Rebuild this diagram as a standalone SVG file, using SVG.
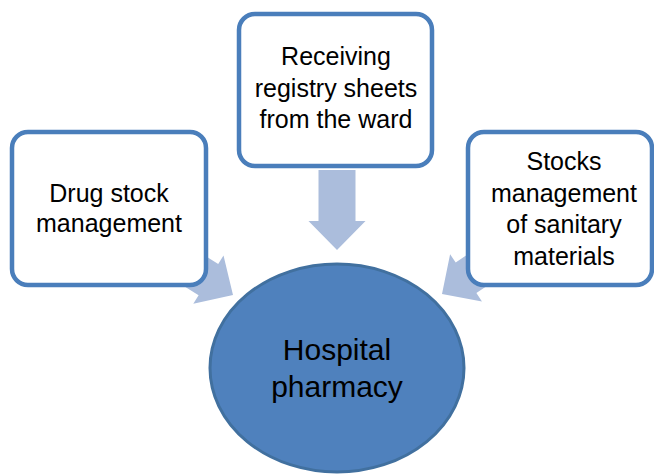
<svg xmlns="http://www.w3.org/2000/svg" width="654" height="474" viewBox="0 0 654 474">
<style>
.box{fill:#ffffff;stroke:#4A7EBB;stroke-width:4.5}
.arrow{fill:#ABBDDC}
.t{font-family:"Liberation Sans",Arial,sans-serif;font-size:25px;fill:#000;text-anchor:middle}
.tc{font-family:"Liberation Sans",Arial,sans-serif;font-size:30px;fill:#000;text-anchor:middle}
</style>
<defs>
<polygon id="arr" points="-80,-18.5 -29,-18.5 -29,-28.5 0,0 -29,28.5 -29,18.5 -80,18.5"/>
</defs>
<g id="connectors">
<use href="#arr" class="arrow" transform="translate(233,295) rotate(32)"/>
<use href="#arr" class="arrow" transform="translate(337,250) rotate(90)"/>
<use href="#arr" class="arrow" transform="translate(442,294) rotate(146)"/>
</g>
<g id="node-drug">
<rect class="box" x="12" y="132" width="194" height="153" rx="16"/>
<text class="t" x="109" y="202">Drug stock</text>
<text class="t" x="109" y="232">management</text>
</g>
<g id="node-receiving">
<rect class="box" x="239" y="14" width="193" height="152" rx="16"/>
<text class="t" x="336" y="65">Receiving</text>
<text class="t" x="336" y="97">registry sheets</text>
<text class="t" x="336" y="128">from the ward</text>
</g>
<g id="node-stocks">
<rect class="box" x="468" y="132" width="184" height="153" rx="16"/>
<text class="t" x="564" y="170">Stocks</text>
<text class="t" x="564" y="202">management</text>
<text class="t" x="564" y="233">of sanitary</text>
<text class="t" x="564" y="265">materials</text>
</g>
<g id="node-pharmacy">
<ellipse cx="337" cy="368" rx="127" ry="104" fill="#4F81BD" stroke="#41709F" stroke-width="3"/>
<text class="tc" x="337" y="360">Hospital</text>
<text class="tc" x="337" y="397">pharmacy</text>
</g>
</svg>
